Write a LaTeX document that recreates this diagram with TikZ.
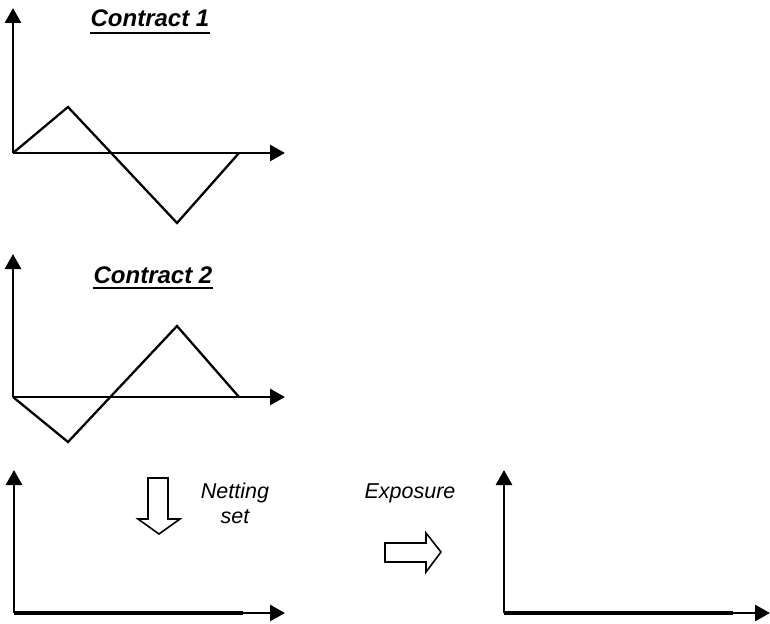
\documentclass[tikz,border=0pt]{standalone}
\usepackage{fontspec}
\setmainfont{Liberation Sans}
\usetikzlibrary{arrows.meta}

\begin{document}
\begin{tikzpicture}[x=1pt,y=-1pt,
        axis/.style={line width=2.8pt,-{Triangle[width=16pt,length=15pt]}},
        payoff/.style={line width=2.3pt,line join=miter},
        netline/.style={line width=4.5pt},
        hollow/.style={line width=1.6pt,line join=miter},
        title/.style={font=\fontsize{24}{28}\selectfont\bfseries\itshape,anchor=base,inner sep=0pt},
        note/.style={font=\fontsize{21.5}{25}\selectfont\itshape,anchor=base,align=center,inner sep=0pt}]
    \useasboundingbox (0,0) rectangle (770,623);

    % contract 1
    \coordinate (o1) at (13,153);
    \draw[axis] (o1) -- (13,8);
    \draw[axis] (o1) -- (285,153);
    \draw[payoff] (o1) -- (68,107) -- (177,223) -- (239,153);
    \node[title] (c1) at (150,27) {Contract 1};
    \draw[line width=2pt] ([yshift=-6pt]c1.base west) -- ([yshift=-6pt]c1.base east);

    % contract 2
    \coordinate (o2) at (13,397);
    \draw[axis] (o2) -- (13,254);
    \draw[axis] (o2) -- (285,397);
    \draw[payoff] (o2) -- (68,442) -- (177,326) -- (239,397);
    \node[title] (c2) at (153,283) {Contract 2};
    \draw[line width=2pt] ([yshift=-5pt]c2.base west) -- ([yshift=-5pt]c2.base east);

    % netting set
    \coordinate (o3) at (14,613);
    \draw[netline] (o3) -- (243,613);
    \draw[axis] (o3) -- (14,470);
    \draw[axis] (o3) -- (285,613);
    \draw[hollow] (148,478) -- (168,478) -- (168,519) -- (180,519) -- (159,534)
        -- (138,519) -- (148,519) -- cycle;
    \node[note] (net) at (235,523) {Netting\\ set};

    % exposure
    \coordinate (o4) at (504,613);
    \draw[netline] (o4) -- (733,613);
    \draw[axis] (o4) -- (504,470);
    \draw[axis] (o4) -- (770,613);
    \draw[hollow] (385,543) -- (426,543) -- (426,533) -- (441,552) -- (426,572)
        -- (426,562) -- (385,562) -- cycle;
    \node[note] (exp) at (410,498) {Exposure};
\end{tikzpicture}
\end{document}
